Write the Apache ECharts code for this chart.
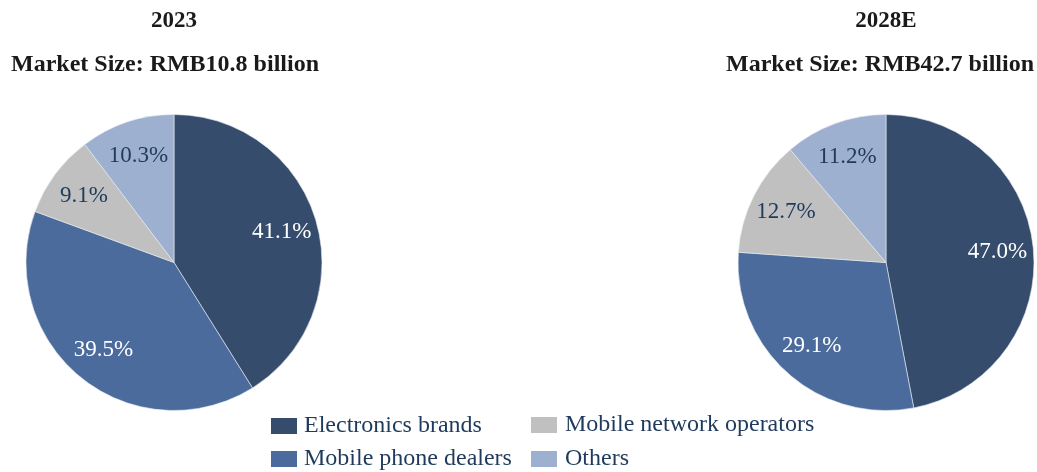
<!DOCTYPE html>
<html><head><meta charset="utf-8">
<script src="https://cdn.jsdelivr.net/npm/echarts@6/dist/echarts.min.js"></script>
<style>html,body{margin:0;padding:0;background:#fff}#c{width:1037px;height:472px}</style>
</head><body><div id="c"></div>
<script>
const categories = ['Electronics brands', 'Mobile phone dealers', 'Mobile network operators', 'Others'];
const share2023 = [41.1, 39.5, 9.1, 10.3];
const share2028 = [47.0, 29.1, 12.7, 11.2];
const years = ['2023', '2028E'];
const marketSize = ['Market Size: RMB10.8 billion', 'Market Size: RMB42.7 billion'];

const colors = ['#354c6d', '#4a6b9b', '#c0c0c0', '#9eb0cf'];
const labelColors = ['#ffffff', '#ffffff', '#1f3a5c', '#1f3a5c'];
const serif = '"Liberation Serif", "Times New Roman", serif';

function mk(vals) {
  return vals.map((v, i) => ({
    name: categories[i], value: v,
    itemStyle: { color: colors[i] }
  }));
}
function pieSeries(vals, cx) {
  return [
    { type: 'pie', center: [cx, 262.5], radius: [0, 148], startAngle: 90, clockwise: true,
      avoidLabelOverlap: false, silent: true, animation: false,
      itemStyle: { borderColor: '#e8ecf2', borderWidth: 0.6 },
      label: { show: false }, labelLine: { show: false },
      data: mk(vals) },
    { type: 'pie', center: [cx, 262.5], radius: [70, 148], startAngle: 90, clockwise: true,
      avoidLabelOverlap: false, silent: true, animation: false, legendHoverLink: false,
      itemStyle: { color: 'transparent', opacity: 0 },
      label: { show: true, position: 'inside', formatter: p => p.value.toFixed(1) + '%',
        fontFamily: serif, fontSize: 23 },
      labelLine: { show: false },
      data: vals.map((v, i) => ({ name: categories[i] + ' ', value: v,
        itemStyle: { color: 'rgba(0,0,0,0)' }, label: { color: labelColors[i], opacity: 1 } })) }
  ];
}

const chart = echarts.init(document.getElementById('c'), null, { renderer: 'canvas' });
const yearStyle = { fontFamily: serif, fontSize: 23, fontWeight: 'bold', color: '#1a1a1a' };
const titleStyle = { fontFamily: serif, fontSize: 24, fontWeight: 'bold', color: '#1a1a1a' };
chart.setOption({
  backgroundColor: '#fff',
  animation: false,
  title: [
    { text: years[0], left: 174, top: 10, textAlign: 'center', padding: 0, textStyle: yearStyle },
    { text: marketSize[0], left: 165, top: 53, textAlign: 'center', padding: 0, textStyle: titleStyle },
    { text: years[1], left: 886, top: 10, textAlign: 'center', padding: 0, textStyle: yearStyle },
    { text: marketSize[1], left: 880, top: 53, textAlign: 'center', padding: 0, textStyle: titleStyle }
  ],
  legend: [
    { data: [categories[0], categories[1]], orient: 'vertical', left: 271, top: 414, padding: 0,
      itemWidth: 26, itemHeight: 16, itemGap: 9, icon: 'rect', selectedMode: false,
      itemStyle: { borderWidth: 0 },
      textStyle: { fontFamily: serif, fontSize: 24, color: '#1f3a5c', padding: [0, 0, 0, 2] } },
    { data: [categories[2], categories[3]], orient: 'vertical', left: 531, top: 413, padding: 0,
      itemWidth: 26, itemHeight: 16, itemGap: 10, icon: 'rect', selectedMode: false,
      itemStyle: { borderWidth: 0 },
      textStyle: { fontFamily: serif, fontSize: 24, color: '#1f3a5c', padding: [0, 0, 0, 3] } }
  ],
  series: [...pieSeries(share2023, 174), ...pieSeries(share2028, 886)]
});
</script></body></html>
